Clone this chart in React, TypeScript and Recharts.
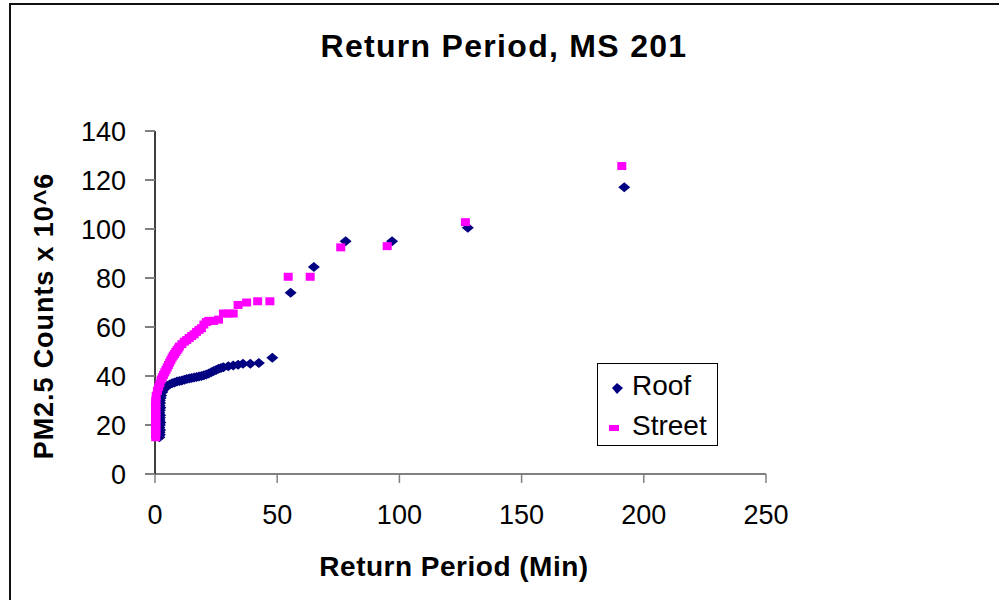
import { Legend, Scatter, ScatterChart, XAxis, YAxis } from "recharts";

const FONT = "'Liberation Sans', Arial, sans-serif";

// return period (min) vs counts
const roofPeriod = [
  1.8, 2.0, 1.9, 2.1, 1.8, 2.0, 2.2, 1.9, 2.0, 2.1,
  1.8, 2.0, 2.2, 1.9, 2.1, 2.0, 2.3, 2.5, 3.0, 3.5,
  4, 5, 6, 7, 8, 9, 10, 11, 12, 13,
  14, 15, 16, 17, 18, 19, 20, 21, 22, 23,
  24, 25, 26, 27, 28, 30, 32, 34, 36, 39,
  42.5, 48, 55.5, 65, 78, 97, 128, 192,
];
const roofCounts = [
  15, 16, 17, 18, 19, 20, 21, 22, 23, 24,
  25, 26, 27, 28, 29, 30, 31, 32, 33.5, 34.5,
  35.5, 36, 36.5, 37, 37.3, 37.8, 38, 38.2, 38.5, 38.8,
  39, 39.2, 39.4, 39.6, 39.8, 40, 40.3, 40.6, 41, 41.5,
  42, 42.5, 43, 43.3, 43.6, 44, 44.3, 44.6, 45, 45,
  45.3, 47.5, 74, 84.5, 95, 95, 100.5, 117,
];

const streetPeriod = [
  0.3, 0.2, 0.4, 0.3, 0.2, 0.4, 0.3, 0.2, 0.4, 0.3,
  0.2, 0.4, 0.3, 0.2, 0.4, 0.3, 0.5, 1.0, 1.5, 2.0,
  2.5, 3.0, 3.5, 4.0, 4.5, 5.0, 5.5, 6.0, 6.5, 7.0,
  7.5, 8.0, 8.5, 9.0, 9.5, 10, 11, 12, 13, 14,
  15, 16, 17, 18, 19, 20, 21, 22, 24, 26,
  28, 30, 32, 34, 37.5, 42, 47, 54.5, 63.5, 76,
  95, 127, 191,
];
const streetCounts = [
  15, 16, 17, 18, 19, 20, 21, 22, 23, 24,
  25, 26, 27, 28, 29, 30, 32, 34, 35.5, 37,
  38.5, 39.5, 40.5, 41.5, 42.5, 43.5, 44.5, 45.5, 46.5, 47.5,
  48.3, 49, 49.8, 50.5, 51.2, 52, 53, 54, 54.7, 55.5,
  56.3, 57, 58, 58.8, 59.5, 61, 62, 62.5, 62.5, 63,
  65.5, 65.5, 65.5, 69, 70, 70.5, 70.5, 80.5, 80.5, 92.5,
  93, 102.8, 125.7,
];

const xTicks = [0, 50, 100, 150, 200, 250];
const yTicks = [0, 20, 40, 60, 80, 100, 120, 140];

const roofData = roofPeriod.map((x, i) => ({ x, y: roofCounts[i] }));
const streetData = streetPeriod.map((x, i) => ({ x, y: streetCounts[i] }));

const Diamond = (props: any) => {
  const { cx, cy } = props;
  return (
    <polygon
      points={`${cx},${cy - 5} ${cx + 6},${cy} ${cx},${cy + 5} ${cx - 6},${cy}`}
      fill="#000080"
    />
  );
};

const Square = (props: any) => {
  const { cx, cy } = props;
  return <rect x={cx - 4.5} y={cy - 4} width={9} height={8} fill="#FF00FF" />;
};

const LegendBox = () => (
  <div
    style={{
      width: 119,
      height: 81,
      border: "1.5px solid #000",
      background: "#fff",
      position: "relative",
      fontFamily: FONT,
      fontSize: 28,
      color: "#000",
    }}
  >
    <svg width={119} height={81} style={{ position: "absolute", left: 0, top: 0 }}>
      <polygon points="19,19 25,24 19,30 14,24" fill="#000080" />
      <rect x={11} y={61} width={10} height={6} fill="#FF00FF" />
      <text x={34} y={31} fontFamily={FONT} fontSize={28}>Roof</text>
      <text x={34} y={71} fontFamily={FONT} fontSize={28}>Street</text>
    </svg>
  </div>
);

const XTitle = () => (
  <text x={454} y={576} textAnchor="middle" fontFamily={FONT} fontSize={28} fontWeight="bold" letterSpacing={0.5} fill="#000">
    Return Period (Min)
  </text>
);

const YTitle = () => (
  <text
    x={53}
    y={316}
    transform="rotate(-90 53 316)"
    textAnchor="middle"
    fontFamily={FONT}
    fontSize={27}
    fontWeight="bold"
    letterSpacing={0.9}
    fill="#000"
  >
    PM2.5 Counts x 10^6
  </text>
);

const App = () => {
  return (
    <div
      style={{
        position: "absolute",
        left: 0,
        top: 0,
        width: 999,
        height: 600,
        overflow: "hidden",
        background: "#fff",
      }}
    >
      <div
        style={{
          position: "absolute",
          left: 9,
          top: 3,
          width: 1100,
          height: 700,
          border: "2px solid #111",
        }}
      />
      <svg width={999} height={80} style={{ position: "absolute", left: 0, top: 0 }}>
        <text x={504} y={57} textAnchor="middle" fontFamily={FONT} fontSize={32} fontWeight="bold" letterSpacing={1.3} fill="#000">
          Return Period, MS 201
        </text>
      </svg>
      <div style={{ position: "absolute", left: 0, top: 0 }}>
        <ScatterChart width={999} height={600} margin={{ top: 131, right: 233, bottom: 66, left: 85 }}>
          <XAxis
            type="number"
            dataKey="x"
            domain={[0, 250]}
            ticks={xTicks}
            height={60}
            tickSize={9}
            tickMargin={22}
            axisLine={{ stroke: "#808080", strokeWidth: 2 }}
            tickLine={{ stroke: "#808080", strokeWidth: 1.5 }}
            tick={{ fill: "#000", fontSize: 27, fontFamily: FONT }}
            label={<XTitle />}
          />
          <YAxis
            type="number"
            dataKey="y"
            domain={[0, 140]}
            ticks={yTicks}
            width={70}
            tickSize={10}
            tickMargin={19}
            axisLine={{ stroke: "#000", strokeWidth: 1.5 }}
            tickLine={{ stroke: "#808080", strokeWidth: 2 }}
            tick={{ fill: "#000", fontSize: 27, fontFamily: FONT }}
            label={<YTitle />}
          />
          <Legend
            layout="horizontal"
            verticalAlign="middle"
            align="center"
            wrapperStyle={{ left: 597, top: 363, width: 122 }}
            content={() => <LegendBox />}
          />
          <Scatter name="Roof" data={roofData} shape={Diamond} isAnimationActive={false} />
          <Scatter name="Street" data={streetData} shape={Square} isAnimationActive={false} />
        </ScatterChart>
      </div>
    </div>
  );
};

export default App;
